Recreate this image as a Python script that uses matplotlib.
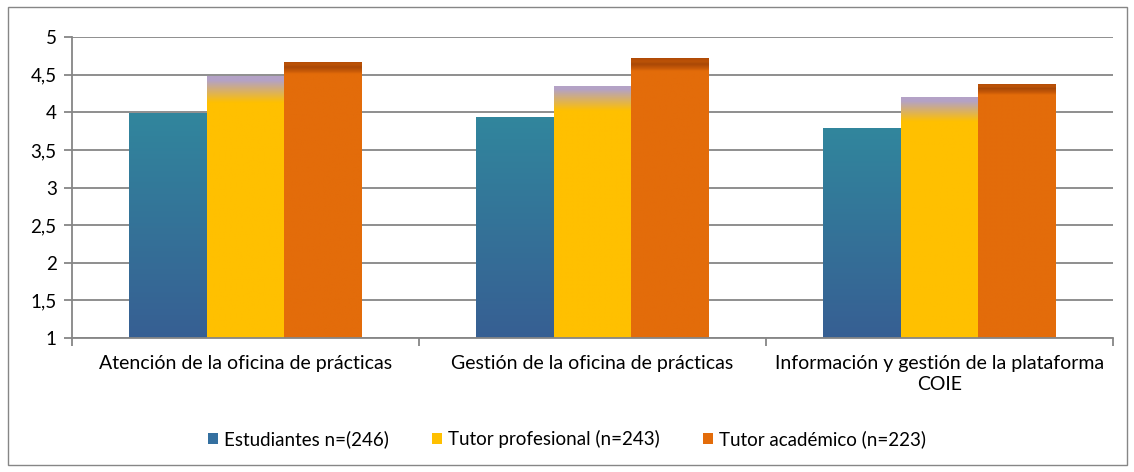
import numpy as np
import matplotlib.pyplot as plt
from matplotlib.colors import LinearSegmentedColormap
from matplotlib.patches import Rectangle, Patch

plt.rcParams['font.family'] = ['Lato', 'DejaVu Sans']

categorias = ["Atención de la oficina de prácticas",
              "Gestión de la oficina de prácticas",
              "Información y gestión de la plataforma\nCOIE"]
series = ["Estudiantes n=(246)", "Tutor profesional (n=243)", "Tutor académico (n=223)"]
estudiantes = [3.99, 3.94, 3.79]
tutor_prof = [4.48, 4.35, 4.20]
tutor_acad = [4.67, 4.72, 4.38]
yticks = [1, 1.5, 2, 2.5, 3, 3.5, 4, 4.5, 5]

# gradientes de relleno (abajo -> arriba)
cmaps = [
    LinearSegmentedColormap.from_list("est", [(0, "#375F93"), (1, "#31869D")]),
    LinearSegmentedColormap.from_list("prof", [(0, "#FFC000"), (0.90, "#FFC000"),
                                               (0.985, "#B4A2C6"), (1, "#B4A2C6")]),
    LinearSegmentedColormap.from_list("acad", [(0, "#E36C0A"), (0.955, "#E36C0A"),
                                               (0.965, "#C85A08"), (0.98, "#A94806"),
                                               (0.99, "#BD5407"), (1, "#B04A06")]),
]
legend_colors = ["#3470A0", "#FFC000", "#E36C0A"]

fig = plt.figure(figsize=(11.34, 4.72), dpi=100)
ax = fig.add_axes([0.0635, 0.2839, 0.918, 0.6377])

x = np.arange(len(categorias))
w = 0.223
grad = np.linspace(0, 1, 256).reshape(-1, 1)
for i, vals in enumerate([estudiantes, tutor_prof, tutor_acad]):
    bars = ax.bar(x + (i - 1) * w, np.array(vals) - 1, w, bottom=1,
                  color="none", edgecolor="none", zorder=2)
    for b in bars:
        x0, y0 = b.get_x(), b.get_y()
        im = ax.imshow(grad, cmap=cmaps[i], aspect="auto", origin="lower",
                       extent=[x0, x0 + b.get_width(), y0, y0 + b.get_height()],
                       zorder=2, interpolation="bilinear")
        im.set_clip_path(b)

ax.set_xlim(-0.5, 2.5)
ax.set_ylim(1, 5)
ax.set_yticks(yticks)
ax.set_yticklabels([f"{t:g}".replace(".", ",") for t in yticks], fontsize=13.5)
ax.grid(axis="y", color="#868686", linewidth=1.3, zorder=0)
ax.set_axisbelow(True)

ax.set_xticks(x)
ax.set_xticklabels(categorias, fontsize=14, linespacing=1.3)
ax.set_xticks([-0.5, 0.5, 1.5, 2.5], minor=True)
ax.tick_params(axis="x", which="major", length=0, pad=12)
ax.tick_params(axis="x", which="minor", length=6, color="#868686", width=1.3)
ax.tick_params(axis="y", length=6, color="#868686", width=1.3, pad=5)

for s in ["top", "right"]:
    ax.spines[s].set_visible(False)
for s in ["left", "bottom"]:
    ax.spines[s].set_color("#868686")
    ax.spines[s].set_linewidth(1.3)

handles = [Patch(facecolor=c, edgecolor="none") for c in legend_colors]
fig.legend(handles, series, loc="center", bbox_to_anchor=(0.5, 0.07), ncol=3,
           frameon=False, fontsize=13.5, handlelength=0.55, handleheight=0.55,
           handletextpad=0.3, columnspacing=2.3)

fig.patches.append(Rectangle((8 / 1134, 7 / 472), 1119 / 1134, 458 / 472,
                             transform=fig.transFigure, fill=False,
                             edgecolor="#868686", linewidth=1))

fig.savefig("out.png", dpi=100)
